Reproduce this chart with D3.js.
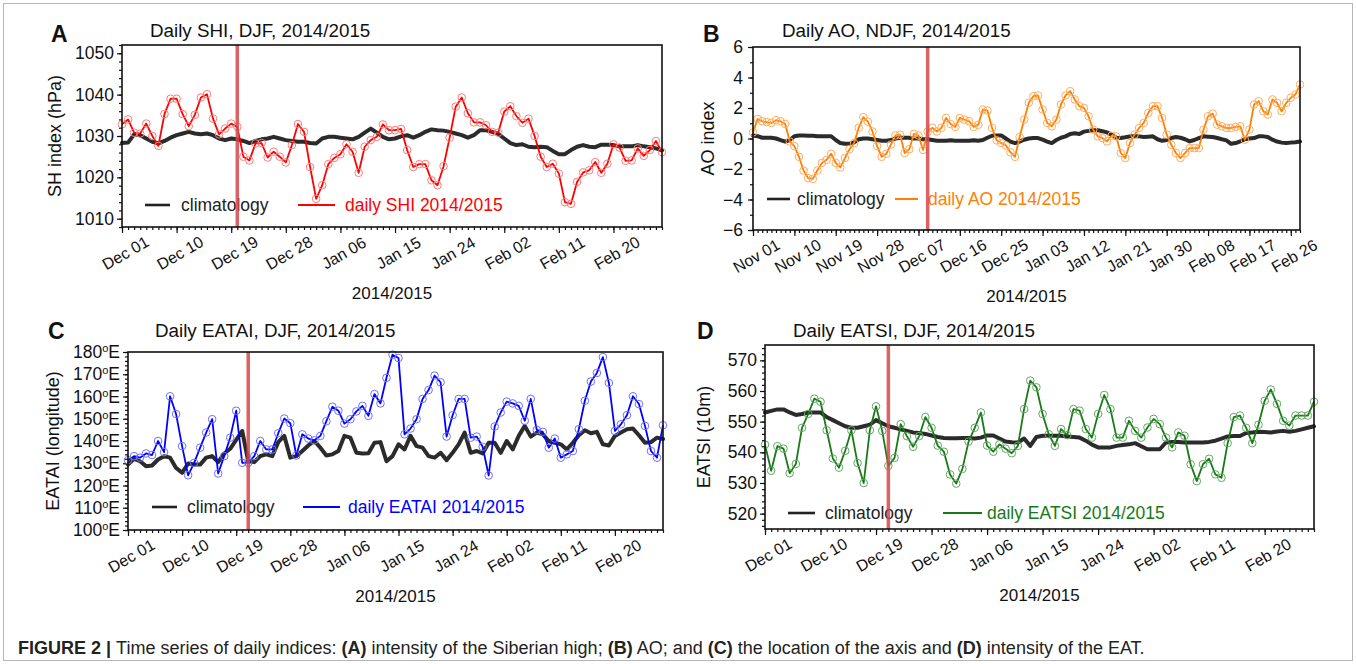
<!DOCTYPE html>
<html>
<head>
<meta charset="utf-8">
<script src="https://cdn.jsdelivr.net/npm/d3@7"></script>
<style>
  body { margin: 0; background: #fff; }
  svg { display: block; }
  text { font-family: "Liberation Sans", Arial, Helvetica, sans-serif; }
</style>
</head>
<body>
<svg id="fig" width="1356" height="664"></svg>
<script>
// ---------------- data ----------------
const djfTickLabels  = ["Dec 01", "Dec 10", "Dec 19", "Dec 28", "Jan 06", "Jan 15", "Jan 24", "Feb 02", "Feb 11", "Feb 20"];
const ndjfTickLabels = ["Nov 01", "Nov 10", "Nov 19", "Nov 28", "Dec 07", "Dec 16", "Dec 25", "Jan 03", "Jan 12", "Jan 21", "Jan 30", "Feb 08", "Feb 17", "Feb 26"];

// Siberian high intensity (hPa), 1 Dec 2014 - 28 Feb 2015
const shiClim = [
  1028.3, 1028.4, 1030.4, 1030.2, 1029.4, 1028.6, 1028.2, 1028.8, 1029.6, 1030.2,
  1030.6, 1031.0, 1030.6, 1030.4, 1030.6, 1030.2, 1029.4, 1029.0, 1029.4, 1029.2,
  1028.8, 1028.3, 1028.8, 1029.2, 1029.4, 1029.8, 1029.4, 1029.0, 1028.8, 1028.6,
  1028.6, 1028.3, 1028.2, 1029.4, 1029.8, 1029.8, 1029.6, 1029.4, 1029.2, 1029.8,
  1030.8, 1031.8, 1030.8, 1029.8, 1029.2, 1029.4, 1029.9, 1030.2, 1029.6, 1030.2,
  1031.0, 1031.6, 1031.4, 1031.3, 1031.0, 1030.6, 1030.2, 1029.6, 1030.2, 1031.4,
  1031.4, 1031.0, 1030.5, 1029.4, 1028.3, 1027.8, 1028.0, 1027.4, 1027.3, 1027.4,
  1027.3, 1026.4, 1025.6, 1025.6, 1026.6, 1027.4, 1027.8, 1027.4, 1027.3, 1027.9,
  1027.9, 1027.8, 1027.5, 1027.5, 1027.5, 1027.8, 1027.5, 1027.3, 1027.0, 1026.5
];
const shiDaily = [
  1032.8, 1034.0, 1030.8, 1030.6, 1033.0, 1030.0, 1027.6, 1035.3, 1039.0, 1039.0,
  1035.3, 1032.4, 1035.1, 1039.3, 1040.1, 1034.2, 1030.4, 1031.8, 1033.0, 1032.2,
  1025.0, 1024.1, 1028.2, 1028.3, 1024.8, 1026.2, 1025.0, 1023.6, 1027.8, 1032.9,
  1031.0, 1022.5, 1014.8, 1018.1, 1023.2, 1024.7, 1025.6, 1028.0, 1026.2, 1021.1,
  1027.4, 1029.0, 1029.8, 1032.8, 1031.4, 1031.4, 1031.7, 1026.6, 1022.5, 1023.2,
  1023.2, 1019.3, 1018.1, 1022.7, 1029.6, 1037.1, 1039.3, 1035.5, 1033.3, 1033.3,
  1032.6, 1031.0, 1030.8, 1035.9, 1037.2, 1034.8, 1033.2, 1034.2, 1030.0, 1025.0,
  1022.5, 1023.3, 1020.9, 1014.0, 1013.6, 1018.9, 1021.2, 1021.7, 1023.7, 1021.1,
  1023.3, 1028.0, 1027.2, 1024.0, 1024.1, 1027.0, 1025.2, 1026.6, 1028.8, 1026.1
];

// Arctic Oscillation index, 1 Nov 2014 - 28 Feb 2015
const aoClim = [
  0.20, 0.15, 0.05, 0.05, 0.05, 0.00, -0.10, -0.20, -0.10, 0.15,
  0.20, 0.20, 0.18, 0.18, 0.15, 0.15, 0.15, 0.15, -0.10, -0.30,
  -0.35, -0.35, -0.25, -0.05, 0.00, 0.00, -0.05, -0.10, -0.15, -0.15,
  -0.10, 0.00, 0.05, 0.05, 0.05, 0.00, 0.00, -0.05, -0.05, -0.10,
  -0.15, -0.15, -0.15, -0.12, -0.15, -0.15, -0.15, -0.15, -0.12, -0.15,
  -0.10, 0.05, 0.18, 0.20, 0.20, 0.00, -0.20, -0.30, -0.20, -0.08,
  0.00, 0.03, 0.03, -0.08, -0.20, -0.30, -0.10, 0.05, 0.14, 0.30,
  0.35, 0.30, 0.45, 0.50, 0.54, 0.54, 0.48, 0.40, 0.25, 0.05,
  0.03, 0.08, 0.14, 0.14, 0.14, 0.10, 0.12, 0.14, -0.05, -0.15,
  -0.10, 0.03, 0.10, 0.05, -0.05, -0.19, -0.10, 0.03, 0.14, 0.12,
  0.10, 0.03, -0.05, -0.12, -0.35, -0.30, -0.19, -0.05, 0.00, 0.03,
  0.14, 0.14, 0.10, -0.08, -0.20, -0.27, -0.30, -0.27, -0.25, -0.20
];
const aoDaily = [
  0.40, 1.28, 1.13, 1.08, 1.02, 1.20, 1.13, 0.95, -0.20, -0.50,
  -1.20, -2.10, -2.60, -2.65, -2.10, -1.60, -1.40, -1.00, -1.60, -1.90,
  -1.28, -0.70, -0.30, 0.70, 1.40, 1.10, 0.46, -0.50, -1.20, -1.00,
  -0.40, 0.20, 0.25, -0.95, -0.70, 0.30, 0.20, -0.75, 0.45, 0.70,
  0.46, 0.70, 1.35, 0.95, 0.76, 1.35, 1.24, 1.13, 0.76, 0.90,
  1.90, 1.83, 0.70, -0.12, -0.30, -0.45, -0.90, -1.20, 0.10, 1.24,
  2.34, 2.77, 2.82, 1.90, 1.02, 0.80, 1.24, 2.23, 2.82, 3.10,
  2.56, 2.12, 2.01, 1.46, 0.58, 0.14, 0.03, -0.19, 0.18, 0.14,
  -0.95, -1.28, -0.30, 0.25, 0.69, 1.02, 1.68, 2.12, 2.12, 1.35,
  0.25, -0.41, -0.95, -1.28, -0.95, -0.63, -0.63, -0.63, 0.58, 1.46,
  1.63, 0.91, 0.80, 0.69, 0.69, 0.76, 0.80, -0.08, 0.58, 2.23,
  2.45, 1.79, 1.57, 2.56, 2.34, 1.79, 2.34, 2.67, 2.88, 3.54
];

// East Asian trough axis longitude (degrees E), 1 Dec 2014 - 28 Feb 2015
const eataiClim = [
  129.4, 132.0, 130.9, 128.7, 129.0, 131.7, 133.2, 132.5, 127.9, 125.7,
  129.9, 129.4, 129.4, 132.5, 133.2, 130.5, 134.4, 136.5, 140.5, 144.5,
  130.9, 130.5, 133.2, 134.0, 133.2, 139.5, 142.3, 132.5, 133.2, 135.5,
  138.0, 140.0, 137.0, 133.5, 134.0, 135.5, 142.3, 141.5, 134.7, 134.4,
  134.5, 139.2, 139.5, 130.9, 133.2, 138.5, 136.2, 142.3, 137.7, 137.0,
  133.2, 132.5, 134.7, 131.4, 134.7, 138.5, 143.8, 134.7, 135.5, 134.4,
  139.2, 139.2, 134.7, 140.0, 136.2, 142.3, 146.8, 142.0, 143.8, 143.0,
  140.0, 139.2, 138.5, 136.2, 139.2, 142.6, 144.8, 143.5, 144.1, 138.5,
  138.0, 142.3, 143.8, 145.3, 145.6, 142.6, 139.2, 139.5, 141.5, 140.9
];
const eataiDaily = [
  131.4, 133.2, 132.5, 134.4, 133.7, 140.0, 135.0, 160.1, 152.1, 137.7,
  124.6, 130.2, 137.0, 143.8, 149.8, 125.4, 133.2, 141.5, 153.6, 130.2,
  130.2, 133.2, 140.0, 136.2, 136.2, 143.5, 150.1, 148.0, 133.5, 143.0,
  141.1, 140.3, 142.3, 148.9, 155.4, 153.6, 147.8, 149.8, 153.3, 155.8,
  151.3, 161.1, 156.9, 168.4, 178.8, 177.3, 143.0, 145.6, 149.8, 158.9,
  162.9, 169.4, 166.4, 142.0, 151.6, 158.9, 158.9, 141.5, 142.0, 137.4,
  124.5, 146.5, 152.8, 157.7, 156.9, 155.8, 149.1, 158.9, 145.0, 144.1,
  137.0, 141.1, 132.5, 134.0, 135.5, 145.3, 158.1, 166.7, 170.6, 177.7,
  166.1, 144.5, 147.5, 151.6, 160.1, 156.6, 146.8, 135.5, 132.5, 147.1
];

// East Asian trough intensity (10 m), 1 Dec 2014 - 28 Feb 2015
const eatsiClim = [
  553.0, 553.5, 554.0, 554.0, 553.0, 552.2, 552.5, 553.0, 553.0, 553.0,
  551.5, 550.5, 549.5, 548.5, 548.0, 548.0, 548.5, 549.0, 550.5, 549.5,
  548.5, 548.0, 547.5, 547.0, 546.5, 546.3, 546.0, 545.5, 545.0, 544.7,
  544.6, 544.6, 544.7, 544.7, 544.5, 544.8, 545.5, 545.5, 544.5, 543.5,
  543.3, 543.2, 544.5, 542.1, 545.0, 545.4, 545.4, 545.4, 545.4, 545.2,
  545.0, 544.8, 543.8, 542.5, 541.6, 541.6, 541.6, 542.1, 542.4, 542.6,
  543.0, 542.0, 541.0, 541.0, 541.0, 543.2, 543.4, 543.4, 543.2, 543.2,
  543.2, 543.2, 543.4, 543.8, 544.5, 545.2, 545.3, 545.3, 546.3, 546.5,
  546.7, 546.6, 546.5, 546.8, 547.0, 546.7, 547.0, 547.5, 548.0, 548.5
];
const eatsiDaily = [
  542.5, 534.0, 542.0, 541.2, 533.2, 536.2, 548.0, 552.5, 557.5, 556.5,
  547.2, 538.0, 535.0, 540.5, 547.2, 536.5, 530.0, 547.2, 555.0, 547.0,
  535.6, 538.2, 549.2, 545.3, 541.8, 545.3, 551.5, 548.0, 542.2, 540.2,
  532.8, 529.8, 534.6, 543.5, 548.0, 553.0, 542.2, 540.2, 542.6, 541.2,
  539.7, 542.1, 554.1, 563.4, 561.2, 552.5, 545.9, 542.1, 547.6, 545.6,
  554.1, 553.6, 547.6, 544.8, 552.5, 558.7, 554.1, 544.8, 544.8, 550.3,
  547.0, 544.8, 548.1, 550.9, 549.2, 544.8, 541.6, 546.5, 545.4, 536.1,
  530.6, 536.1, 537.9, 532.8, 531.7, 543.0, 551.5, 552.0, 548.0, 543.0,
  549.0, 556.8, 560.5, 555.8, 550.3, 548.7, 552.0, 552.0, 552.0, 556.5
];

// day index (from the first day of each series) marked by the vertical line
const markerDaySHI = 19;
const markerDayAO = 38;
const markerDayEATAI = 20;
const markerDayEATSI = 20;

// ---------------- layout ----------------
const svg = d3.select("#fig");

const panels = [
  {
    letter: "A", letterX: 51, letterY: 42,
    title: "Daily SHI, DJF, 2014/2015", titleX: 150, titleY: 37,
    yTitle: "SH index (hPa)", yTitleX: 55,
    left: 122, right: 662, top: 45, bottom: 227,
    yDomain: [1008, 1052], yMajor: d3.range(1010, 1051, 10), yMinor: d3.range(1008, 1053, 2),
    labelGap: 8, degree: false,
    xLabels: djfTickLabels, clim: shiClim, daily: shiDaily, marker: markerDaySHI,
    color: "#ff0000", markerColor: "#ff7a7a",
    legendY: 205, climSeg: [145, 170], climText: 181, dailySeg: [298, 335], dailyText: 345,
    dailyLabel: "daily SHI 2014/2015"
  },
  {
    letter: "B", letterX: 703, letterY: 42,
    title: "Daily AO, NDJF, 2014/2015", titleX: 782, titleY: 37,
    yTitle: "AO index", yTitleX: 708,
    left: 753, right: 1300, top: 47, bottom: 230,
    yDomain: [-6, 6], yMajor: d3.range(-6, 7, 2), yMinor: d3.range(-6, 7, 1),
    labelGap: 10, degree: false,
    xLabels: ndjfTickLabels, clim: aoClim, daily: aoDaily, marker: markerDayAO,
    color: "#ff7f00", markerColor: "#ffac5c",
    legendY: 199, climSeg: [767, 790], climText: 797, dailySeg: [895, 918], dailyText: 928,
    dailyLabel: "daily AO 2014/2015"
  },
  {
    letter: "C", letterX: 48, letterY: 339,
    title: "Daily EATAI, DJF, 2014/2015", titleX: 155, titleY: 337,
    yTitle: "EATAI (longitude)", yTitleX: 53,
    left: 128, right: 663, top: 352, bottom: 530,
    yDomain: [100, 180], yMajor: d3.range(100, 181, 10), yMinor: d3.range(100, 181, 2),
    labelGap: 8, degree: true,
    xLabels: djfTickLabels, clim: eataiClim, daily: eataiDaily, marker: markerDayEATAI,
    color: "#0000ff", markerColor: "#7070ff",
    legendY: 507, climSeg: [152, 177], climText: 187, dailySeg: [303, 340], dailyText: 348,
    dailyLabel: "daily EATAI 2014/2015"
  },
  {
    letter: "D", letterX: 697, letterY: 339,
    title: "Daily EATSI, DJF, 2014/2015", titleX: 793, titleY: 337,
    yTitle: "EATSI (10m)", yTitleX: 704,
    left: 765, right: 1314, top: 345, bottom: 529,
    yDomain: [515, 575], yMajor: d3.range(520, 571, 10), yMinor: d3.range(516, 575, 2),
    labelGap: 8, degree: false,
    xLabels: djfTickLabels, clim: eatsiClim, daily: eatsiDaily, marker: markerDayEATSI,
    color: "#167a16", markerColor: "#62a862",
    legendY: 513, climSeg: [788, 815], climText: 825, dailySeg: [943, 982], dailyText: 987,
    dailyLabel: "daily EATSI 2014/2015"
  }
];

function cleanAxis(sel) {
  sel.attr("font-size", null).attr("font-family", null);
  sel.select(".domain").remove();
  sel.selectAll(".tick line").attr("stroke", "#111").attr("stroke-width", 1.2);
}

function drawPanel(p) {
  const n = p.daily.length;
  const g = svg.append("g");
  const x = d3.scaleLinear().domain([0, n - 1]).range([p.left, p.right]);
  const y = d3.scaleLinear().domain(p.yDomain).range([p.bottom, p.top]);

  // x axis: daily minor ticks, labelled ticks every 9 days
  g.append("g").attr("transform", `translate(0,${p.bottom})`)
    .call(d3.axisBottom(x).tickValues(d3.range(n)).tickSize(3).tickFormat(""))
    .call(cleanAxis);
  const xMajor = p.xLabels.map((_, i) => i * 9);
  const xa = g.append("g").attr("transform", `translate(0,${p.bottom})`)
    .call(d3.axisBottom(x).tickValues(xMajor).tickSize(6).tickFormat((d, i) => p.xLabels[i]))
    .call(cleanAxis);
  xa.selectAll(".tick text")
    .attr("y", 0).attr("dy", null)
    .attr("dominant-baseline", "central").attr("text-anchor", "middle")
    .attr("transform", "translate(3,26) rotate(-30)")
    .attr("fill", "#111").style("font-size", "16px");

  // y axis
  g.append("g").attr("transform", `translate(${p.left},0)`)
    .call(d3.axisLeft(y).tickValues(p.yMinor).tickSize(3).tickFormat(""))
    .call(cleanAxis);
  const ya = g.append("g").attr("transform", `translate(${p.left},0)`)
    .call(d3.axisLeft(y).tickValues(p.yMajor).tickSize(5).tickPadding(p.labelGap - 5).tickFormat(d3.format("d")))
    .call(cleanAxis);
  ya.selectAll(".tick text").attr("fill", "#111").style("font-size", "17.5px");
  if (p.degree) {
    ya.selectAll(".tick text").each(function (d) {
      const t = d3.select(this).text("");
      t.append("tspan").text(d);
      t.append("tspan").attr("dy", -6).style("font-size", "11px").text("o");
      t.append("tspan").attr("dy", 6).text("E");
    });
  }

  // climatology
  g.append("path")
    .datum(p.clim)
    .attr("fill", "none").attr("stroke", "#2b2b2b").attr("stroke-width", 4)
    .attr("stroke-linejoin", "round").attr("stroke-linecap", "round")
    .attr("d", d3.line().x((d, i) => x(i)).y(d => y(d)));

  // daily series with hollow markers
  g.append("path")
    .datum(p.daily)
    .attr("fill", "none").attr("stroke", p.color).attr("stroke-width", 1.8)
    .attr("stroke-linejoin", "round")
    .attr("d", d3.line().x((d, i) => x(i)).y(d => y(d)));
  g.append("g").selectAll("circle")
    .data(p.daily).join("circle")
    .attr("cx", (d, i) => x(i)).attr("cy", d => y(d)).attr("r", 3.8)
    .attr("fill", "none").attr("stroke", p.markerColor).attr("stroke-width", 1);

  // legend
  const lg = g.append("g");
  lg.append("line").attr("x1", p.climSeg[0]).attr("x2", p.climSeg[1])
    .attr("y1", p.legendY).attr("y2", p.legendY)
    .attr("stroke", "#222").attr("stroke-width", 2.6);
  lg.append("text").attr("x", p.climText).attr("y", p.legendY).attr("dominant-baseline", "central")
    .attr("fill", "#222").style("font-size", "17.5px").text("climatology");
  lg.append("line").attr("x1", p.dailySeg[0]).attr("x2", p.dailySeg[1])
    .attr("y1", p.legendY).attr("y2", p.legendY)
    .attr("stroke", p.color).attr("stroke-width", 2);
  lg.append("text").attr("x", p.dailyText).attr("y", p.legendY).attr("dominant-baseline", "central")
    .attr("fill", p.color).style("font-size", "17.5px").text(p.dailyLabel);

  // vertical marker
  g.append("line")
    .attr("x1", x(p.marker)).attr("x2", x(p.marker))
    .attr("y1", p.top).attr("y2", p.bottom)
    .attr("stroke", "#d6474b").attr("stroke-width", 3.5).attr("stroke-opacity", 0.85);

  // frame
  g.append("rect")
    .attr("x", p.left).attr("y", p.top)
    .attr("width", p.right - p.left).attr("height", p.bottom - p.top)
    .attr("fill", "none").attr("stroke", "#111").attr("stroke-width", 1.6);

  // texts
  g.append("text").attr("x", p.letterX).attr("y", p.letterY)
    .style("font-size", "23px").style("font-weight", "bold").attr("fill", "#111").text(p.letter);
  g.append("text").attr("x", p.titleX).attr("y", p.titleY)
    .style("font-size", "18.8px").attr("fill", "#111").text(p.title);
  g.append("text")
    .attr("transform", `translate(${p.yTitleX},${(p.top + p.bottom) / 2}) rotate(-90)`)
    .attr("text-anchor", "middle").attr("dominant-baseline", "central")
    .style("font-size", "18px").attr("fill", "#111").text(p.yTitle);
  g.append("text")
    .attr("x", (p.left + p.right) / 2).attr("y", p.bottom + 66)
    .attr("text-anchor", "middle").attr("dominant-baseline", "central")
    .style("font-size", "17px").attr("fill", "#111").text("2014/2015");
}

// outer border
svg.append("rect").attr("x", 3.5).attr("y", 3.5).attr("width", 1349).attr("height", 657)
  .attr("fill", "none").attr("stroke", "#b5b5b5").attr("stroke-width", 1);

panels.forEach(drawPanel);

// caption
const cap = svg.append("text").attr("x", 18).attr("y", 654).style("font-size", "18px").attr("fill", "#222");
const capParts = [
  ["FIGURE 2 | ", true], ["Time series of daily indices: ", false],
  ["(A)", true], [" intensity of the Siberian high; ", false],
  ["(B)", true], [" AO; and ", false],
  ["(C)", true], [" the location of the axis and ", false],
  ["(D)", true], [" intensity of the EAT.", false]
];
capParts.forEach(([t, b]) => cap.append("tspan").style("font-weight", b ? "bold" : "normal").text(t));
</script>
</body>
</html>
